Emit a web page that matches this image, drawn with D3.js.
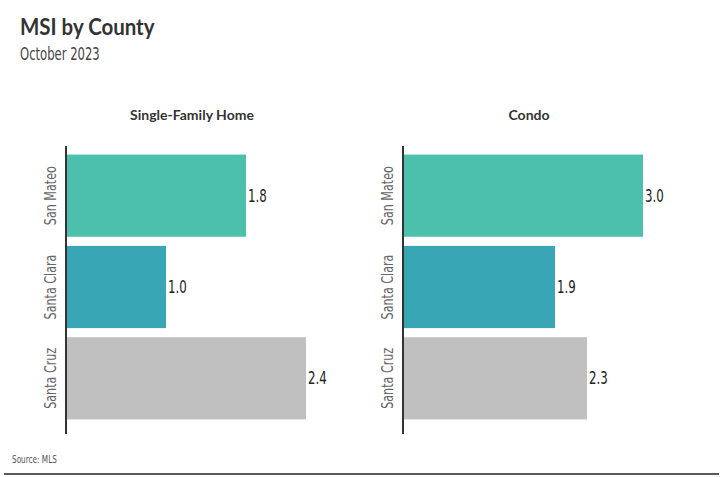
<!DOCTYPE html>
<html>
<head>
<meta charset="utf-8">
<script src="https://cdn.jsdelivr.net/npm/d3@7"></script>
<style>
  html, body { margin: 0; padding: 0; background: #fff; }
  svg { display: block; }
</style>
</head>
<body>
<svg id="chart" width="726" height="477"></svg>
<script>
const categories = ["San Mateo", "Santa Clara", "Santa Cruz"];
const panelTitles = ["Single-Family Home", "Condo"];
const singleFamilyValues = [1.8, 1.0, 2.4];
const condoValues = [3.0, 1.9, 2.3];
const barColors = ["#4dbfad", "#38a6b4", "#c0c0c0"];

const titleText = "MSI by County";
const subtitleText = "October 2023";
const sourceText = "Source: MLS";

const narrow = "'DejaVu Sans Condensed', 'DejaVu Sans', sans-serif";
const heading = "Lato, 'Open Sans', sans-serif";

const svg = d3.select("#chart");

svg.append("text")
  .attr("transform", "translate(20,35) scale(0.93,1)")
  .attr("font-family", heading).attr("font-weight", 700).attr("font-size", 22)
  .attr("fill", "#333").text(titleText);

svg.append("text")
  .attr("transform", "translate(20,60) scale(0.76,1)")
  .attr("font-family", narrow).attr("font-size", 17)
  .attr("fill", "#444").text(subtitleText);

const panels = [
  { title: panelTitles[0], values: singleFamilyValues, x0: 66 },
  { title: panelTitles[1], values: condoValues, x0: 403 }
];

const y = d3.scaleBand().domain(categories).range([150, 424])
  .paddingInner(0.1).paddingOuter(0.05);

panels.forEach(p => {
  const x = d3.scaleLinear().domain([0, d3.max(p.values)]).range([p.x0, p.x0 + 240]);
  const g = svg.append("g");
  const rows = categories.map((c, i) => ({ c, v: p.values[i], color: barColors[i] }));

  g.append("text").attr("x", p.x0 + 126).attr("y", 120)
    .attr("text-anchor", "middle")
    .attr("font-family", heading).attr("font-weight", 700).attr("font-size", 14)
    .attr("fill", "#333").text(p.title);

  g.selectAll("rect.bar").data(rows).join("rect")
    .attr("class", "bar")
    .attr("x", x(0) + 1)
    .attr("y", d => y(d.c))
    .attr("width", d => x(d.v) - x(0) - 1)
    .attr("height", y.bandwidth())
    .attr("fill", d => d.color);

  g.selectAll("text.val").data(rows).join("text")
    .attr("class", "val")
    .attr("transform", d => `translate(${x(d.v) + 2},${y(d.c) + y.bandwidth() / 2}) scale(0.77,1)`)
    .attr("dy", "0.36em")
    .attr("font-family", narrow).attr("font-size", 17)
    .attr("fill", "#222").text(d => d.v.toFixed(1));

  g.selectAll("text.cat").data(rows).join("text")
    .attr("class", "cat")
    .attr("transform", d => `translate(${p.x0 - 10},${y(d.c) + y.bandwidth() / 2}) rotate(-90) scale(0.8,1)`)
    .attr("text-anchor", "middle")
    .attr("font-family", narrow).attr("font-size", 15.5)
    .attr("fill", "#666").text(d => d.c);

  g.append("line").attr("x1", p.x0).attr("x2", p.x0)
    .attr("y1", 146).attr("y2", 434)
    .attr("stroke", "#333").attr("stroke-width", 2);
});

svg.append("text")
  .attr("transform", "translate(12,463) scale(0.74,1)")
  .attr("font-family", narrow).attr("font-size", 11)
  .attr("fill", "#555").text(sourceText);

svg.append("line").attr("x1", 4).attr("x2", 719).attr("y1", 474).attr("y2", 474)
  .attr("stroke", "#222").attr("stroke-width", 1.5);
</script>
</body>
</html>
